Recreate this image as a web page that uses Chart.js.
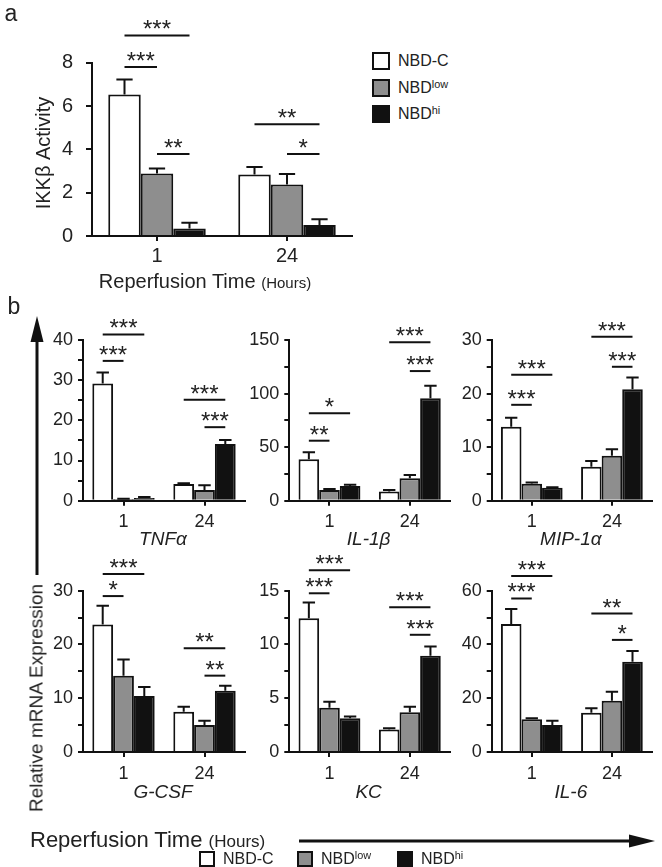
<!DOCTYPE html>
<html>
<head>
<meta charset="utf-8">
<script src="https://cdn.jsdelivr.net/npm/chart.js@4.4.0/dist/chart.umd.min.js"></script>
<style>
body { margin: 0; background: #fff; width: 662px; height: 867px; position: relative; overflow: hidden;
       font-family: 'Liberation Sans', Arial, sans-serif; color: #222; }
canvas { position: absolute; }
.t { position: absolute; white-space: nowrap; line-height: 1; transform: translate(-50%, -50%); }
.l { position: absolute; white-space: nowrap; line-height: 1; transform: translateY(-50%); }
.sq { position: absolute; box-sizing: border-box; border: 2px solid #111; }
sup { font-size: 0.68em; vertical-align: 0.45em; line-height: 0; }
svg { position: absolute; left: 0; top: 0; }
</style>
</head>
<body>
<svg width="662" height="867">
  <line x1="37" y1="338" x2="37" y2="575" stroke="#111" stroke-width="3"/>
  <polygon points="37,316 30.5,342 43.5,342" fill="#111"/>
  <line x1="299" y1="841" x2="632" y2="841" stroke="#111" stroke-width="3"/>
  <polygon points="655,841 629,834.5 629,847.5" fill="#111"/>
</svg>
<script>
var FONT = "'Liberation Sans', Arial, sans-serif";

// ---- data ----
var times = ['1', '24'];
var groupNames = ['NBD-C', 'NBD<sup>low</sup>', 'NBD<sup>hi</sup>'];
var groupColors = ['#ffffff', '#8e8e8e', '#111111'];
var genes = ['TNF\u03b1', 'IL-1\u03b2', 'MIP-1\u03b1', 'G-CSF', 'KC', 'IL-6'];

// panel a, IKKβ activity: [1 h, 24 h] per group, with SEM
var ikkC = [6.53, 2.84], ikkLow = [2.89, 2.38], ikkHi = [0.35, 0.51];
var ikkErr = [[0.69, 0.35], [0.23, 0.48], [0.26, 0.26]];
// significance: [time index, group from, group to, height, label]
var ikkSig = [[0, 0, 2, 9.26, '***'], [0, 0, 1, 7.8, '***'], [0, 1, 2, 3.78, '**'],
              [1, 0, 2, 5.16, '**'], [1, 1, 2, 3.78, '*']];

// panel b, relative mRNA expression
var tnfC = [29.2, 4.15], tnfLow = [0.4, 2.66], tnfHi = [0.7, 14.1];
var tnfErr = [[2.7, 0.2], [0.1, 1.2], [0.2, 1.0]];
var tnfSig = [[0, 0, 2, 41.4, '***'], [0, 0, 1, 34.8, '***'], [1, 0, 2, 25.1, '***'], [1, 1, 2, 18.3, '***']];

var il1bC = [38.6, 8.7], il1bLow = [10, 20.9], il1bHi = [13.7, 95.6];
var il1bErr = [[6.6, 1.3], [0.9, 3.1], [1.3, 11.8]];
var il1bSig = [[0, 0, 2, 81.6, '*'], [0, 0, 1, 56, '**'], [1, 0, 2, 147.9, '***'], [1, 1, 2, 121, '***']];

var mipC = [13.8, 6.35], mipLow = [3.17, 8.4], mipHi = [2.43, 20.8];
var mipErr = [[1.7, 1.05], [0.25, 1.2], [0.1, 2.2]];
var mipSig = [[0, 0, 2, 23.5, '***'], [0, 0, 1, 17.9, '***'], [1, 0, 2, 30.6, '***'], [1, 1, 2, 25, '***']];

var gcsfC = [23.7, 7.5], gcsfLow = [14.2, 5.0], gcsfHi = [10.4, 11.4];
var gcsfErr = [[3.5, 0.9], [3.0, 0.8], [1.7, 0.9]];
var gcsfSig = [[0, 0, 2, 33.1, '***'], [0, 0, 1, 29, '*'], [1, 0, 2, 19.3, '**'], [1, 1, 2, 14.2, '**']];

var kcC = [12.43, 2.1], kcLow = [4.12, 3.69], kcHi = [3.13, 8.96];
var kcErr = [[1.47, 0.1], [0.56, 0.51], [0.16, 0.84]];
var kcSig = [[0, 0, 2, 16.9, '***'], [0, 0, 1, 14.76, '***'], [1, 0, 2, 13.45, '***'], [1, 1, 2, 10.9, '***']];

var il6C = [47.6, 14.6], il6Low = [12.2, 19.1], il6Hi = [10.04, 33.6];
var il6Err = [[5.6, 1.7], [0.4, 3.3], [1.6, 4.0]];
var il6Sig = [[0, 0, 2, 65.5, '***'], [0, 0, 1, 57.1, '***'], [1, 0, 2, 51.5, '**'], [1, 1, 2, 41.7, '*']];

// y axis: top value and labelled tick spacing per gene
var geneMax = [40, 150, 30, 30, 15, 60];
var geneMajor = [10, 50, 10, 10, 5, 20];

// ---- error bars + significance bars ----
var errSigPlugin = {
  id: 'errSig',
  afterDatasetsDraw: function (chart) {
    var o = chart.options.plugins.errSig;
    var ctx = chart.ctx, y = chart.scales.y;
    ctx.save();
    ctx.strokeStyle = '#111';
    ctx.lineWidth = 2;
    chart.data.datasets.forEach(function (ds, i) {
      chart.getDatasetMeta(i).data.forEach(function (bar, j) {
        var top = y.getPixelForValue(ds.data[j]);
        var end = y.getPixelForValue(ds.data[j] + o.errors[i][j]);
        var half = bar.width * o.cap / 2;
        ctx.beginPath();
        ctx.moveTo(bar.x, top);
        ctx.lineTo(bar.x, end);
        ctx.moveTo(bar.x - half, end);
        ctx.lineTo(bar.x + half, end);
        ctx.stroke();
      });
    });
    ctx.fillStyle = '#222';
    ctx.font = o.starSize + 'px ' + FONT;
    ctx.textAlign = 'center';
    ctx.textBaseline = 'alphabetic';
    o.sig.forEach(function (s) {
      var x1 = chart.getDatasetMeta(s[1]).data[s[0]].x;
      var x2 = chart.getDatasetMeta(s[2]).data[s[0]].x;
      var py = y.getPixelForValue(s[3]);
      ctx.beginPath();
      ctx.moveTo(x1, py);
      ctx.lineTo(x2, py);
      ctx.stroke();
      ctx.fillText(s[4], (x1 + x2) / 2, py + 2);
    });
    ctx.restore();
  }
};

function makeChart(p) {
  var cv = document.createElement('canvas');
  cv.width = p.cw; cv.height = p.ch;
  cv.style.left = p.cx + 'px'; cv.style.top = p.cy + 'px';
  cv.style.width = p.cw + 'px'; cv.style.height = p.ch + 'px';
  document.body.appendChild(cv);

  var datasets = p.means.map(function (m, i) {
    return {
      label: groupNames[i], data: m,
      backgroundColor: groupColors[i], borderColor: '#111', borderWidth: 2,
      borderSkipped: 'start', categoryPercentage: p.catPct, barPercentage: 1
    };
  });

  new Chart(cv, {
    type: 'bar',
    data: { labels: times, datasets: datasets },
    options: {
      responsive: false,
      animation: false,
      layout: { padding: { left: 0, top: p.T - p.cy, right: p.cx + p.cw - p.R, bottom: 0 } },
      plugins: {
        legend: { display: false },
        tooltip: { enabled: false },
        errSig: { errors: p.errs, sig: p.sig, cap: p.cap, starSize: p.starSize }
      },
      scales: {
        x: {
          grid: { display: true, drawOnChartArea: false, drawTicks: true, tickLength: 5,
                  color: '#111', lineWidth: 2, offset: false },
          border: { display: true, color: '#111', width: 2 },
          ticks: { color: '#222', font: { size: p.font, family: FONT }, padding: p.xPad, maxRotation: 0 },
          afterFit: function (s) { s.height = p.cy + p.ch - p.B; }
        },
        y: {
          min: 0, max: p.yMax,
          grid: { display: true, drawOnChartArea: false, drawTicks: true, tickLength: p.yTick,
                  color: '#111', lineWidth: 2 },
          border: { display: true, color: '#111', width: 2 },
          ticks: {
            stepSize: p.step, autoSkip: false, color: '#222', padding: p.yPad,
            font: { size: p.font, family: FONT },
            callback: function (v) {
              var r = v / p.major;
              return Math.abs(r - Math.round(r)) < 1e-6 ? v : '';
            }
          },
          afterFit: function (s) { s.width = p.L - p.cx; }
        }
      }
    },
    plugins: [errSigPlugin]
  });
}

// ---- text helpers ----
function addText(html, x, y, size, cls, rot) {
  var d = document.createElement('div');
  d.className = cls;
  d.innerHTML = html;
  d.style.left = x + 'px';
  d.style.top = y + 'px';
  d.style.fontSize = size + 'px';
  if (rot) d.style.transform = 'translate(-50%, -50%) rotate(-90deg)';
  document.body.appendChild(d);
  return d;
}
function addSquare(x, y, s, color) {
  var d = document.createElement('div');
  d.className = 'sq';
  d.style.left = x + 'px'; d.style.top = y + 'px';
  d.style.width = s + 'px'; d.style.height = s + 'px';
  d.style.background = color;
  document.body.appendChild(d);
}

// panel a
makeChart({ cx: 0, cy: 0, cw: 362, ch: 270, L: 92, T: 62.7, R: 352, B: 236,
  means: [ikkC, ikkLow, ikkHi], errs: ikkErr, sig: ikkSig, yMax: 8, step: 2, major: 2,
  font: 20, yTick: 6, yPad: 13, xPad: 3, catPct: 0.75, cap: 0.5, starSize: 24 });

// panel b
var geneMeans = [[tnfC, tnfLow, tnfHi], [il1bC, il1bLow, il1bHi], [mipC, mipLow, mipHi],
                 [gcsfC, gcsfLow, gcsfHi], [kcC, kcLow, kcHi], [il6C, il6Low, il6Hi]];
var geneErrs = [tnfErr, il1bErr, mipErr, gcsfErr, kcErr, il6Err];
var geneSigs = [tnfSig, il1bSig, mipSig, gcsfSig, kcSig, il6Sig];

var cols = [{ cx: 0, cw: 252, L: 83, R: 245 }, { cx: 200, cw: 256, L: 289.3, R: 450 },
            { cx: 400, cw: 262, L: 491.7, R: 652 }];
var rows = [{ cy: 290, ch: 245, T: 340, B: 500.7, label: 538 },
            { cy: 545, ch: 243, T: 590.7, B: 752, label: 791 }];

genes.forEach(function (g, k) {
  var c = cols[k % 3], r = rows[Math.floor(k / 3)];
  makeChart({ cx: c.cx, cy: r.cy, cw: c.cw, ch: r.ch, L: c.L, T: r.T, R: c.R, B: r.B,
    means: geneMeans[k], errs: geneErrs[k], sig: geneSigs[k],
    yMax: geneMax[k], step: geneMajor[k] / 2, major: geneMajor[k],
    font: 18, yTick: 5, yPad: 5, xPad: 6, catPct: 0.77, cap: 0.6, starSize: 24 });
  addText('<i>' + g + '</i>', (c.L + c.R) / 2 - 1, r.label, 19, 't');
});

addText('a', 11, 13, 23, 't');
addText('b', 14, 306, 23, 't');
addText('IKK\u03b2 Activity', 43, 153, 20, 't', true);
addText('Reperfusion Time <span style="font-size:15px">(Hours)</span>', 205, 281, 20, 't');
addText('Relative mRNA Expression', 36, 698, 19, 't', true);
addText('Reperfusion Time <span style="font-size:17px">(Hours)</span>', 30, 840, 22, 'l');

// legend a
groupNames.forEach(function (n, i) {
  addSquare(372, 52 + i * 26.5, 18, groupColors[i]);
  addText(n, 398, 61 + i * 26.5, 16, 'l');
});
// legend b
var legX = [199, 297, 397];
groupNames.forEach(function (n, i) {
  addSquare(legX[i], 851, 16, groupColors[i]);
  addText(n, legX[i] + 24, 859, 16, 'l');
});
</script>
</body>
</html>
